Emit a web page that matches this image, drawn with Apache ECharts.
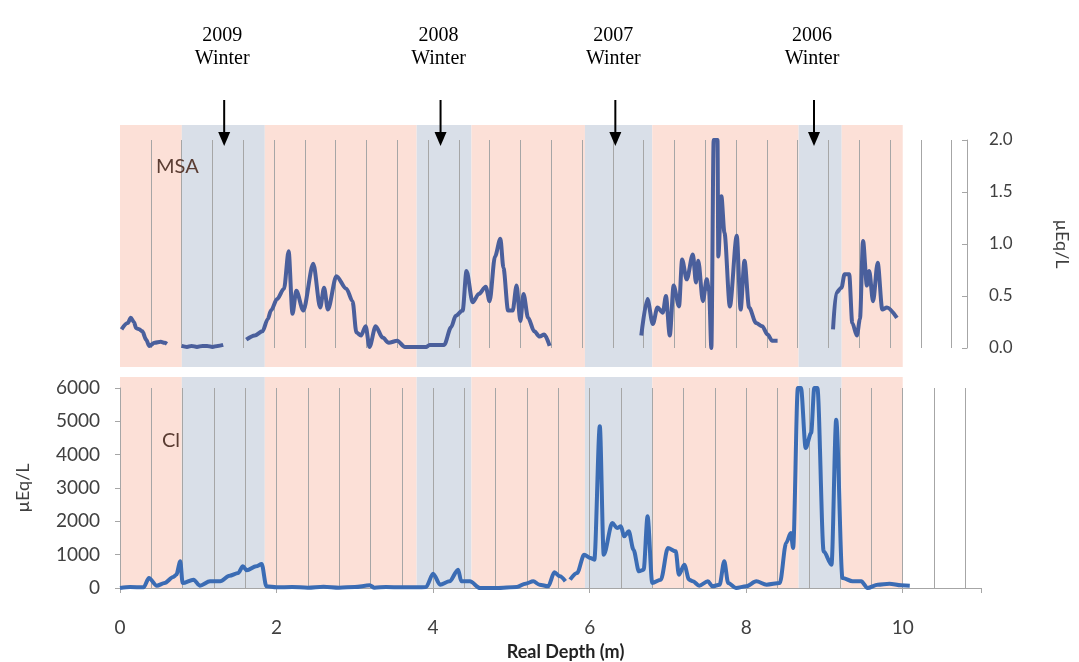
<!DOCTYPE html>
<html>
<head>
<meta charset="utf-8">
<script src="https://cdn.jsdelivr.net/npm/echarts@6/dist/echarts.min.js"></script>
<style>
  html, body { margin: 0; padding: 0; background: #fff; }
  #main { width: 1079px; height: 662px; }
</style>
</head>
<body>
<div id="main"></div>
<script>
// season bands (m), alternating summer / winter
var bandEdges = [0, 0.79, 1.85, 3.79, 4.49, 5.94, 6.80, 8.67, 9.22, 10.0];

// winter markers
var winterLabels = ['2009', '2008', '2007', '2006'];
var winterDepth = [1.34, 4.15, 6.42, 9.0];

// MSA (µEq/L), null = gap in record
var msaDepth = [0.02,0.10,0.14,0.18,0.21,0.25,0.29,0.34,0.38,0.45,0.53,0.58,0.61,0.70,
    0.80,0.87,0.93,1.00,1.07,1.13,1.20,1.27,1.34,1.50,
    1.64,1.75,1.85,1.92,1.96,2.04,2.13,2.19,2.24,2.29,2.38,2.51,2.60,2.65,2.70,2.81,2.94,3.02,3.07,3.13,3.19,3.24,3.32,3.41,3.49,3.60,3.70,3.85,3.98,4.02,4.21,
    4.30,4.36,4.45,4.50,4.58,4.66,4.75,4.80,4.87,4.94,4.98,5.04,5.10,5.15,5.20,5.24,5.30,5.38,5.45,5.51,5.58,6.20,
    6.77,6.85,6.92,6.98,7.05,7.09,7.14,7.19,7.26,7.30,7.36,7.44,7.48,7.51,7.57,7.62,7.65,7.68,7.71,7.76,7.77,7.81,7.85,7.92,8.01,8.06,8.11,8.17,8.26,8.34,8.41,8.47,8.54,8.90,
    9.26,9.30,9.37,9.41,9.47,9.51,9.57,9.61,9.65,9.70,9.73,9.78,9.84,9.90,9.96,10.09];
var msaValue = [0.18,0.24,0.29,0.25,0.19,0.18,0.16,0.08,0.02,0.05,0.06,0.05,0.04,null,
    0.02,0.01,0.02,0.01,0.02,0.02,0.01,0.02,0.03,null,
    0.08,0.12,0.16,0.28,0.36,0.47,0.57,0.93,0.33,0.55,0.36,0.81,0.39,0.58,0.37,0.69,0.57,0.45,0.15,0.12,0.21,0.01,0.21,0.10,0.05,0.07,0.01,0.01,0.01,0.03,0.03,
    0.20,0.31,0.36,0.74,0.44,0.52,0.59,0.45,0.88,1.05,0.77,0.36,0.36,0.60,0.26,0.52,0.29,0.16,0.11,0.13,0.02,null,
    0.12,0.47,0.23,0.39,0.34,0.50,0.12,0.60,0.40,0.85,0.66,0.90,0.63,0.84,0.45,0.66,0.55,0.00,2.00,2.00,0.88,1.46,1.11,0.40,1.08,0.37,0.84,0.39,0.24,0.21,0.13,0.07,0.07,null,
    0.18,0.53,0.58,0.71,0.71,0.24,0.12,0.28,1.03,0.60,0.74,0.45,0.82,0.37,0.39,0.29];

// Cl (µEq/L)
var clDepth = [0.00,0.13,0.30,0.37,0.47,0.57,0.68,0.72,0.77,0.80,0.94,1.02,1.15,1.28,1.40,1.51,1.57,1.62,1.74,1.81,1.87,
    2.00,2.20,2.40,2.60,2.80,3.00,3.19,3.25,3.40,3.60,3.80,3.91,4.00,4.09,4.21,4.32,4.36,4.47,4.60,4.81,
    5.07,5.18,5.28,5.36,5.47,5.55,5.62,5.69,5.72,
    5.75,5.84,5.93,6.01,6.06,6.13,6.18,6.29,6.35,6.40,6.44,6.50,6.56,6.63,6.69,6.74,6.80,6.91,7.00,7.10,7.14,7.21,7.27,
    7.32,7.40,7.51,7.57,7.66,7.72,7.77,7.87,8.00,8.13,8.26,8.43,8.51,8.57,8.60,8.66,8.70,8.76,8.83,8.87,8.91,8.99,9.09,9.15,9.23,
    9.36,9.47,9.55,9.68,9.83,9.98,10.09];
var clValue = [0,30,20,300,70,150,330,400,800,150,250,70,200,200,370,450,650,530,650,720,50,
    20,30,10,40,10,30,80,10,30,20,20,30,430,100,200,550,200,200,0,0,
    30,130,200,100,50,470,350,200,null,
    250,450,1000,900,850,4850,1000,1950,1800,1850,1550,1700,1150,500,550,2150,150,250,1200,1100,400,700,250,
    200,70,200,50,100,800,150,0,50,200,100,150,1350,1650,1200,6000,6000,4200,4650,6000,6000,1100,700,5050,300,
    200,200,0,100,130,80,70];

function pairs(xs, ys) {
    var out = [];
    for (var i = 0; i < xs.length; i++) {
        out.push([xs[i], ys[i] == null ? '-' : ys[i]]);
    }
    return out;
}

var bands = [];
for (var i = 0; i < bandEdges.length - 1; i++) {
    bands.push([bandEdges[i], bandEdges[i + 1], i % 2]);
}

function renderBand(params, api) {
    var p0 = api.coord([api.value(0), 1]);
    var p1 = api.coord([api.value(1), 0]);
    return {
        type: 'rect',
        shape: { x: p0[0], y: p0[1], width: p1[0] - p0[0], height: p1[1] - p0[1] },
        style: { fill: api.value(2) == 1 ? '#d9dfe8' : '#fce0d7' }
    };
}

var axisGray = '#a6a6a6';
var labelColor = '#404040';
var font = 'Lato, "Open Sans", sans-serif';

var myChart = echarts.init(document.getElementById('main'), null, { renderer: 'canvas' });

var hiddenX = { type: 'value', min: 0, max: 11, show: false };
var hiddenY = { type: 'value', min: 0, max: 1, show: false };

var option = {
    backgroundColor: '#ffffff',
    animation: false,
    grid: [
        { left: 120, width: 861, top: 125, height: 242 },
        { left: 120, width: 861, top: 140, height: 208 },
        { left: 120, width: 861, top: 377, height: 211 },
        { left: 120, width: 861, top: 388, height: 200 }
    ],
    xAxis: [
        Object.assign({ gridIndex: 0 }, hiddenX),
        {
            gridIndex: 1, type: 'value', min: 0, max: 11, interval: 0.4,
            axisLine: { show: false }, axisTick: { show: false }, axisLabel: { show: false },
            splitLine: { show: true, showMinLine: false, showMaxLine: false, lineStyle: { color: axisGray, width: 1 } }
        },
        Object.assign({ gridIndex: 2 }, hiddenX),
        {
            gridIndex: 3, type: 'value', min: 0, max: 11, interval: 2,
            name: 'Real Depth (m)', nameLocation: 'middle', nameGap: 55,
            nameTextStyle: { color: '#222', fontSize: 18, fontWeight: 'bold', fontFamily: font, padding: [0, 0, 0, 30] },
            axisLine: { show: true, onZero: false, lineStyle: { color: axisGray, width: 1 } },
            axisTick: { show: true, length: 5, lineStyle: { color: axisGray } },
            axisLabel: {
                color: labelColor, fontSize: 19, fontFamily: font, margin: 30,
                formatter: function (v) { return v > 10 ? '' : String(v); }
            },
            splitLine: { show: false }
        },
        {
            gridIndex: 3, type: 'value', min: 0, max: 11, interval: 0.4, position: 'bottom',
            axisLine: { show: false }, axisTick: { show: false }, axisLabel: { show: false },
            splitLine: { show: true, showMinLine: false, showMaxLine: false, lineStyle: { color: axisGray, width: 1 } }
        }
    ],
    yAxis: [
        Object.assign({ gridIndex: 0 }, hiddenY),
        {
            gridIndex: 1, type: 'value', position: 'right', min: 0, max: 2, interval: 0.5,
            name: 'µEq/L', nameLocation: 'middle', nameGap: 86, nameRotate: -90,
            nameTextStyle: { color: labelColor, fontSize: 18, fontFamily: font },
            axisLine: { show: true, onZero: false, lineStyle: { color: axisGray, width: 1 } },
            axisTick: { show: true, inside: true, length: 5, lineStyle: { color: axisGray } },
            axisLabel: {
                color: labelColor, fontSize: 17, fontFamily: font, margin: 22,
                formatter: function (v) { return v.toFixed(1); }
            },
            splitLine: { show: false }
        },
        Object.assign({ gridIndex: 2 }, hiddenY),
        {
            gridIndex: 3, type: 'value', min: 0, max: 6000, interval: 1000,
            name: 'µEq/L', nameLocation: 'middle', nameGap: 88, nameRotate: 90,
            nameTextStyle: { color: labelColor, fontSize: 18, fontFamily: font },
            axisLine: { show: true, onZero: false, lineStyle: { color: axisGray, width: 1 } },
            axisTick: { show: true, length: 5, lineStyle: { color: axisGray } },
            axisLabel: {
                color: labelColor, fontSize: 19, fontFamily: font, margin: 20,
                formatter: function (v) { return String(v); }
            },
            splitLine: { show: false }
        }
    ],
    series: [
        {
            name: 'seasons top', type: 'custom', xAxisIndex: 0, yAxisIndex: 0, z: -1,
            renderItem: renderBand, data: bands, silent: true
        },
        {
            name: 'seasons bottom', type: 'custom', xAxisIndex: 2, yAxisIndex: 2, z: -1,
            renderItem: renderBand, data: bands, silent: true
        },
        {
            name: 'MSA', type: 'line', xAxisIndex: 1, yAxisIndex: 1,
            data: pairs(msaDepth, msaValue), showSymbol: false, symbol: 'none',
            smooth: 0.3, smoothMonotone: 'x',
            lineStyle: { color: '#4a5f9c', width: 4 }
        },
        {
            name: 'Cl', type: 'line', xAxisIndex: 3, yAxisIndex: 3,
            data: pairs(clDepth, clValue), showSymbol: false, symbol: 'none',
            smooth: 0.3, smoothMonotone: 'x',
            lineStyle: { color: '#3b6cb4', width: 4 }
        }
    ]
};

myChart.setOption(option);

// annotations: panel names, winter arrows
var graphics = [
    { type: 'text', left: 156, top: 157, style: { text: 'MSA', fill: '#5a3c32', font: '20px ' + font } },
    { type: 'text', left: 162, top: 431, style: { text: 'Cl', fill: '#5a3c32', font: '20px ' + font } }
];
for (var k = 0; k < winterDepth.length; k++) {
    var px = myChart.convertToPixel({ xAxisIndex: 1 }, winterDepth[k]);
    graphics.push({
        type: 'text', x: px - 1, y: 24,
        style: { text: winterLabels[k] + '\nWinter', fill: '#000', font: '20px "Liberation Serif", serif', align: 'center', lineHeight: 23 }
    });
    graphics.push({ type: 'line', shape: { x1: px + 1, y1: 100, x2: px + 1, y2: 134 }, style: { stroke: '#000', lineWidth: 2 } });
    graphics.push({ type: 'polygon', shape: { points: [[px - 5, 132], [px + 7, 132], [px + 1, 146]] }, style: { fill: '#000' } });
}
myChart.setOption({ graphic: graphics });
</script>
</body>
</html>
